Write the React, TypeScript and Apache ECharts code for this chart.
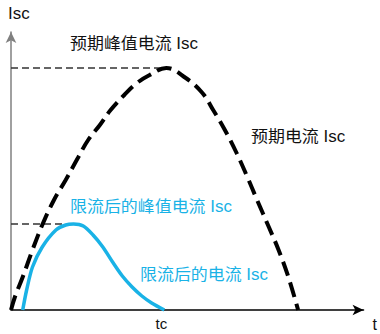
import React, { useEffect, useRef } from "react";
import * as echarts from "echarts";

// time units / current units (origin at axis crossing)
const prospectiveCurve: [number, number][] = [
  [0, 0], [4, 13], [12, 33], [22, 60], [32, 85], [44, 110], [56, 130],
  [69, 153], [79, 170], [91, 185], [102, 200], [116, 215], [129, 227],
  [142, 235], [159, 242], [179, 232], [196, 217], [207, 200], [219, 180], [231, 157],
  [242, 133], [252, 110], [264, 83], [274, 60], [284, 33], [294, 0],
];
const limitedCurve: [number, number][] = [
  [12, 0], [16, 20], [22, 43], [32, 63], [46, 80], [56, 85], [64, 86], [74, 84],
  [84, 75], [94, 63], [104, 48], [114, 34], [124, 23], [134, 14], [144, 7], [157, 0],
];
const prospectivePeakRef: [number, number][] = [[0, 242], [159, 242]];
const limitedPeakRef: [number, number][] = [[0, 86], [64, 86]];
const tcTick = [154];
const tcLabel = "tc";
const xAxisMax = 361;
const yAxisMax = 278;

const labels = {
  peak: "预期峰值电流 Isc",
  prospective: "预期电流 Isc",
  limitedPeak: "限流后的峰值电流 Isc",
  limited: "限流后的电流 Isc",
  yName: "Isc",
  xName: "t",
};

const FONT = "'Liberation Sans', 'Noto Sans CJK SC', sans-serif";
const BLUE = "#19b2e6";
const SX = 1.06;

export default function App() {
  const ref = useRef<HTMLDivElement>(null);
  useEffect(() => {
    if (!ref.current) return;
    const chart = echarts.init(ref.current, undefined, { renderer: "svg" });
    const txt = (text: string, left: number, top: number, fill: string) => ({
      type: "text",
      left,
      top,
      scaleX: SX,
      style: { text, fill, font: `16px ${FONT}` },
    });
    chart.setOption({
      animation: false,
      backgroundColor: "#ffffff",
      grid: { left: 11, right: 8, top: 32, bottom: 24 },
      xAxis: {
        type: "value",
        min: 0,
        max: xAxisMax,
        splitLine: { show: false },
        axisTick: { show: false },
        axisLine: {
          show: true,
          lineStyle: { color: "#000", width: 1.5 },
          symbol: ["none", "arrow"],
          symbolSize: [8, 11],
        },
        axisLabel: {
          show: true,
          customValues: tcTick,
          formatter: () => tcLabel,
          color: "#111",
          fontSize: 15,
          fontFamily: FONT,
          margin: 6,
        },
        name: labels.xName,
        nameLocation: "end",
        nameGap: 9,
        nameTextStyle: {
          color: "#111",
          fontSize: 16,
          fontFamily: FONT,
          align: "left",
          verticalAlign: "top",
          padding: [6, 0, 0, 0],
        },
      },
      yAxis: {
        type: "value",
        min: 0,
        max: yAxisMax,
        splitLine: { show: false },
        axisTick: { show: false },
        axisLabel: { show: false },
        axisLine: {
          show: true,
          lineStyle: { color: "#808080", width: 1.5 },
          symbol: ["none", "arrow"],
          symbolSize: [8, 11],
        },
      },
      graphic: [
        txt(labels.yName, 8, 5, "#111"),
        txt(labels.peak, 70, 35, "#111"),
        txt(labels.prospective, 251, 128, "#111"),
        txt(labels.limitedPeak, 70, 198, BLUE),
        txt(labels.limited, 140, 266, BLUE),
      ],
      series: [
        {
          type: "line",
          data: prospectivePeakRef,
          symbol: "none",
          lineStyle: { color: "#333", width: 1.3, type: [7, 4] },
          silent: true,
        },
        {
          type: "line",
          data: limitedPeakRef,
          symbol: "none",
          lineStyle: { color: "#333", width: 1.3, type: [7, 4] },
          silent: true,
        },
        {
          type: "line",
          data: prospectiveCurve,
          smooth: 0.4,
          symbol: "none",
          clip: false,
          lineStyle: { color: "#000", width: 4, type: [15, 7] },
        },
        {
          type: "line",
          data: limitedCurve,
          smooth: 0.3,
          symbol: "none",
          clip: false,
          lineStyle: { color: BLUE, width: 3.5 },
        },
      ],
    });
    return () => chart.dispose();
  }, []);
  return (
    <div
      ref={ref}
      style={{ position: "absolute", left: 0, top: 0, width: 380, height: 334 }}
    />
  );
}
